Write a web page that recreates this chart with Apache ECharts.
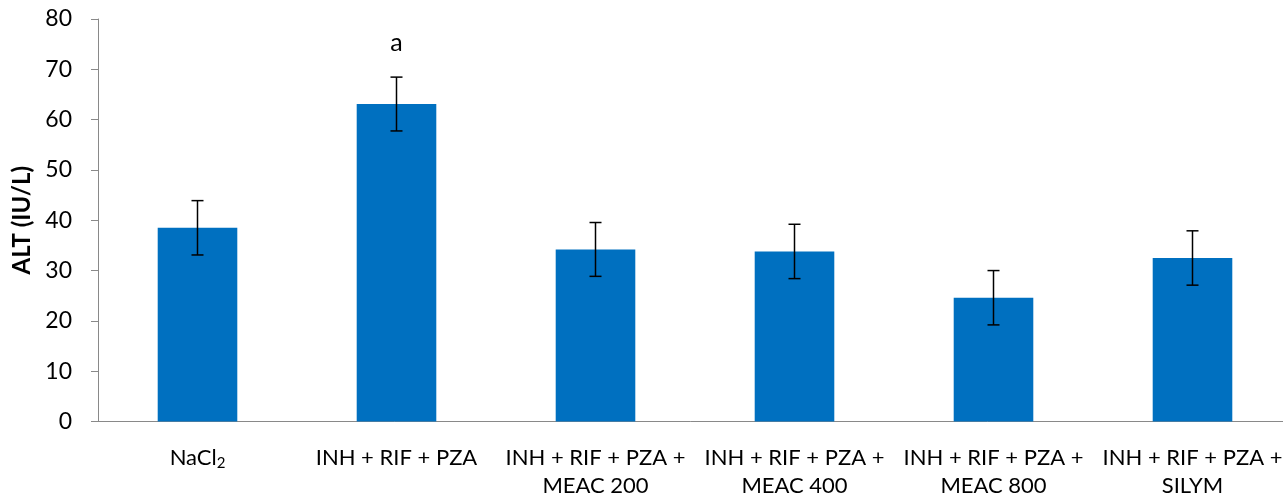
<!DOCTYPE html>
<html>
<head>
<meta charset="utf-8">
<script src="https://cdn.jsdelivr.net/npm/echarts@6/dist/echarts.min.js"></script>
<style>html,body{margin:0;padding:0;background:#fff}#c{width:1283px;height:496px}</style>
</head>
<body>
<div id="c"></div>
<script>
const categories = ['NaCl2', 'INH + RIF + PZA', 'INH + RIF + PZA +\nMEAC 200', 'INH + RIF + PZA +\nMEAC 400', 'INH + RIF + PZA +\nMEAC 800', 'INH + RIF + PZA +\nSILYM'];
const means = [38.5, 63.1, 34.2, 33.8, 24.6, 32.5];
const errors = [5.4, 5.35, 5.35, 5.4, 5.4, 5.4];
const letters = ['', 'a', '', '', '', ''];
const yTicks = [0, 10, 20, 30, 40, 50, 60, 70, 80];

const FONT = 'Lato, "Open Sans", sans-serif';
const chart = echarts.init(document.getElementById('c'));
chart.setOption({
  animation: false,
  grid: { left: 98, top: 19, width: 1194, height: 402.5, containLabel: false, outerBoundsMode: 'none' },
  xAxis: {
    type: 'category',
    data: categories,
    axisLine: { lineStyle: { color: '#898989', width: 1 } },
    axisTick: { length: 7, lineStyle: { color: '#898989' } },
    axisLabel: {
      interval: 0, color: '#000', fontFamily: FONT, fontSize: 22, lineHeight: 28, margin: 22,
      formatter: function (v) {
        if (v === 'NaCl2') return '{n|NaCl}{s|2}';
        return v;
      },
      rich: {
        n: { fontFamily: FONT, fontSize: 22, color: '#000', lineHeight: 28 },
        s: { fontFamily: FONT, fontSize: 15, color: '#000', lineHeight: 28, padding: [12, 0, 0, 0] }
      }
    }
  },
  yAxis: {
    type: 'value', min: 0, max: 80, interval: 10,
    name: 'ALT (IU/L)', nameLocation: 'middle', nameGap: 64,
    nameTextStyle: { fontFamily: FONT, fontWeight: 'bold', fontSize: 24, color: '#000' },
    axisLine: { show: true, lineStyle: { color: '#898989', width: 1 } },
    axisTick: { show: true, length: 7, lineStyle: { color: '#898989' } },
    splitLine: { show: false },
    axisLabel: {
      color: '#000', fontFamily: FONT, fontSize: 23, margin: 26,
      formatter: function (v) { return yTicks.indexOf(v) >= 0 ? String(v) : ''; }
    }
  },
  series: [
    {
      type: 'bar', data: means, barWidth: '40%',
      itemStyle: { color: '#0070C0' }
    },
    {
      type: 'custom',
      data: means.map((m, i) => [i, m - errors[i], m + errors[i]]),
      z: 10,
      renderItem: function (params, api) {
        const i = api.value(0);
        const lo = api.coord([i, api.value(1)]);
        const hi = api.coord([i, api.value(2)]);
        const hw = 6;
        const st = { stroke: '#000', lineWidth: 1.5 };
        const children = [
          { type: 'line', shape: { x1: hi[0], y1: hi[1], x2: lo[0], y2: lo[1] }, style: st },
          { type: 'line', shape: { x1: hi[0] - hw, y1: hi[1], x2: hi[0] + hw, y2: hi[1] }, style: st },
          { type: 'line', shape: { x1: lo[0] - hw, y1: lo[1], x2: lo[0] + hw, y2: lo[1] }, style: st }
        ];
        if (letters[i]) {
          children.push({ type: 'text', style: { text: letters[i], x: hi[0], y: hi[1] - 34, align: 'center', verticalAlign: 'middle', fontFamily: FONT, fontSize: 25, fill: '#000' } });
        }
        return { type: 'group', children: children };
      }
    }
  ]
});
</script>
</body>
</html>
